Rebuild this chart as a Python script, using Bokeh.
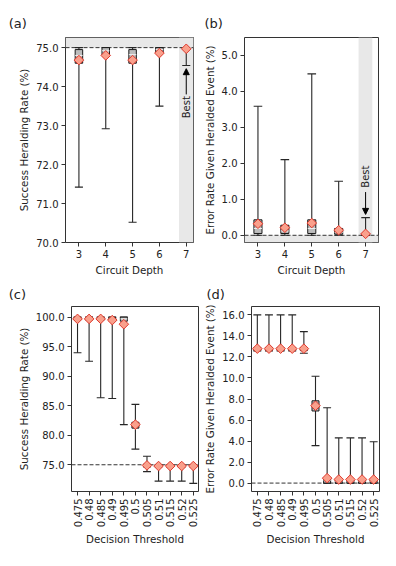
import numpy as np
from math import pi
from bokeh.plotting import figure
from bokeh.models import (Range1d, FixedTicker, PrintfTickFormatter, BoxAnnotation,
                          Span, Arrow, NormalHead, ColumnDataSource, Label)
from bokeh.layouts import column, row
from bokeh.embed import file_html
from bokeh.resources import INLINE

FONT = "DejaVu Sans"

# ---------------- data ----------------
depths = [3, 4, 5, 6, 7]

# (a) success heralding rate vs circuit depth
a_lo = [71.42, 72.92, 70.52, 73.50, 74.54]
a_hi = [75.00, 75.00, 75.00, 75.00, 74.98]
a_q1 = [74.60, 74.80, 74.60, 74.87, 74.97]
a_q3 = [74.95, 75.00, 74.95, 75.00, 74.98]
a_med = [74.80, 74.92, 74.82, 74.95, 74.98]
a_best = [74.68, 74.80, 74.68, 74.86, 74.97]

# (b) error rate vs circuit depth
b_lo = [0.00, 0.00, 0.00, 0.00, 0.00]
b_hi = [3.58, 2.10, 4.48, 1.50, 0.49]
b_q1 = [0.05, 0.05, 0.05, 0.03, 0.00]
b_q3 = [0.43, 0.28, 0.43, 0.19, 0.05]
b_med = [0.19, 0.12, 0.19, 0.08, 0.02]
b_best = [0.32, 0.21, 0.34, 0.14, 0.04]

thresholds = ["0.475", "0.48", "0.485", "0.49", "0.495", "0.5",
              "0.505", "0.51", "0.515", "0.52", "0.525"]

# (c) success heralding rate vs decision threshold
c_lo = [93.97, 92.53, 86.34, 86.23, 81.80, 77.65, 73.84, 72.23, 72.23, 72.23, 71.85]
c_hi = [100.0, 100.0, 100.0, 100.0, 100.0, 85.23, 76.44, 75.00, 75.00, 75.00, 75.00]
c_q1 = [99.50, 99.50, 99.50, 99.40, 99.30, 81.20, 74.60, 74.60, 74.60, 74.60, 74.60]
c_q3 = [100.0, 100.0, 100.0, 100.0, 100.0, 82.20, 75.10, 74.95, 74.95, 74.95, 74.95]
c_med = [99.80, 99.80, 99.80, 99.70, 99.70, 81.70, 74.90, 74.80, 74.80, 74.80, 74.80]
c_best = [99.70, 99.70, 99.70, 99.50, 98.80, 81.80, 74.89, 74.78, 74.78, 74.78, 74.78]

# (d) error rate vs decision threshold
d_lo = [12.57, 12.57, 12.57, 12.57, 12.35, 3.56, 0.00, 0.00, 0.00, 0.00, 0.00]
d_hi = [16.00, 16.00, 16.00, 16.00, 14.41, 10.17, 7.17, 4.30, 4.30, 4.30, 3.93]
d_q1 = [12.60, 12.60, 12.60, 12.60, 12.60, 6.86, 0.00, 0.00, 0.00, 0.00, 0.00]
d_q3 = [12.90, 12.90, 12.90, 12.90, 12.90, 7.83, 0.50, 0.30, 0.30, 0.30, 0.30]
d_med = [12.75, 12.75, 12.75, 12.75, 12.75, 7.30, 0.25, 0.15, 0.15, 0.15, 0.15]
d_best = [12.79, 12.79, 12.79, 12.79, 12.79, 7.36, 0.47, 0.34, 0.34, 0.34, 0.34]

best_depth = 7
ref_rate = 75.0
ref_err = 0.0

# ---------------- helpers ----------------
def make_fig(w, h, xr, yr, bl, br, bt, bb, title, title_offset, title_standoff):
    p = figure(width=w, height=h, x_range=Range1d(*xr), y_range=Range1d(*yr),
               output_backend="svg", toolbar_location=None,
               min_border_left=bl, min_border_right=br,
               min_border_top=bt, min_border_bottom=bb, title=title)
    p.xgrid.visible = False
    p.ygrid.visible = False
    p.outline_line_color = "#333333"
    p.outline_line_width = 1
    p.background_fill_color = "white"
    p.border_fill_color = "white"
    p.title.text_font = FONT
    p.title.text_font_size = "13px"
    p.title.text_font_style = "normal"
    p.title.text_color = "#222222"
    p.title.align = "left"
    p.title.offset = title_offset
    p.title.standoff = title_standoff
    for ax in (p.xaxis[0], p.yaxis[0]):
        ax.axis_line_color = None
        ax.major_tick_line_color = "#333333"
        ax.major_tick_out = 4
        ax.major_tick_in = 0
        ax.minor_tick_line_color = None
        ax.major_label_text_font = FONT
        ax.major_label_text_font_size = "10px"
        ax.major_label_text_color = "#222222"
        ax.major_label_standoff = 3
        ax.axis_label_text_font = FONT
        ax.axis_label_text_font_size = "10.3px"
        ax.axis_label_text_font_style = "normal"
        ax.axis_label_text_color = "#222222"
        ax.axis_label_standoff = 3
    p.yaxis[0].formatter = PrintfTickFormatter(format="%.1f")
    return p


def draw_boxes(p, x, lo, hi, q1, q3, med, best, box_w, cap_w):
    x = np.asarray(x, dtype=float)
    src = ColumnDataSource(dict(
        x=x, lo=lo, hi=hi, q1=q1, q3=q3, med=med, best=best,
        bl=x - box_w / 2, br=x + box_w / 2,
        cl=x - cap_w / 2, cr=x + cap_w / 2))
    p.segment(x0="x", y0="lo", x1="x", y1="hi", source=src,
              line_color="#262626", line_width=1.1)
    p.segment(x0="cl", y0="lo", x1="cr", y1="lo", source=src,
              line_color="#262626", line_width=1.1)
    p.segment(x0="cl", y0="hi", x1="cr", y1="hi", source=src,
              line_color="#262626", line_width=1.1)
    p.quad(left="bl", right="br", bottom="q1", top="q3", source=src,
           fill_color="#bdbdbd", line_color="#1a1a1a", line_width=1)
    p.segment(x0="bl", y0="med", x1="br", y1="med", source=src,
              line_color="#f2f2f2", line_width=1)
    p.scatter(x="x", y="best", source=src, marker="square", angle=pi / 4,
              size=6.8, fill_color="#f9a08c", line_color="#e0392d", line_width=1)


def dashed(p, loc):
    p.add_layout(Span(location=loc, dimension="width", line_color="#333333",
                      line_dash="4 2", line_width=1, level="underlay"))


shade = "#e8e8e8"

# ---------------- (a) ----------------
pa = make_fig(198, 280, (2.5, 7.27), (70.0, 75.26), 65, 5, 37, 38, "(a)", -56.7, 12.5)
pa.add_layout(BoxAnnotation(bottom=ref_rate, fill_color=shade, fill_alpha=1,
                            line_color=None, level="underlay"))
pa.add_layout(BoxAnnotation(left=best_depth - 0.27, right=best_depth + 0.27,
                            fill_color=shade, fill_alpha=1, line_color=None,
                            level="underlay"))
dashed(pa, ref_rate)
draw_boxes(pa, depths, a_lo, a_hi, a_q1, a_q3, a_med, a_best, 0.28, 0.3)
pa.xaxis[0].ticker = FixedTicker(ticks=depths)
pa.yaxis[0].ticker = FixedTicker(ticks=[70, 71, 72, 73, 74, 75])
pa.xaxis[0].axis_label = "Circuit Depth"
pa.yaxis[0].axis_label = "Success Heralding Rate (%)"
pa.add_layout(Arrow(end=NormalHead(size=6, fill_color="black", line_color="black"),
                    x_start=best_depth, y_start=73.80, x_end=best_depth, y_end=74.46,
                    line_color="black", line_width=1))
pa.add_layout(Label(x=best_depth, y=73.47, text="Best", angle=pi / 2,
                    text_align="center", text_baseline="middle",
                    text_font=FONT, text_font_size="10px", text_color="#222222"))

# ---------------- (b) ----------------
pb = make_fig(198, 280, (2.5, 7.48), (-0.2, 5.49), 46, 18, 37, 38, "(b)", -40, 12.5)
pb.add_layout(BoxAnnotation(top=ref_err, fill_color=shade, fill_alpha=1,
                            line_color=None, level="underlay"))
pb.add_layout(BoxAnnotation(left=best_depth - 0.26, right=best_depth + 0.25,
                            fill_color=shade, fill_alpha=1, line_color=None,
                            level="underlay"))
dashed(pb, ref_err)
draw_boxes(pb, depths, b_lo, b_hi, b_q1, b_q3, b_med, b_best, 0.3, 0.32)
pb.xaxis[0].ticker = FixedTicker(ticks=depths)
pb.yaxis[0].ticker = FixedTicker(ticks=[0, 1, 2, 3, 4, 5])
pb.xaxis[0].axis_label = "Circuit Depth"
pb.yaxis[0].axis_label = "Error Rate Given Heralded Event (%)"
pb.add_layout(Arrow(end=NormalHead(size=6, fill_color="black", line_color="black"),
                    x_start=best_depth, y_start=1.20, x_end=best_depth, y_end=0.58,
                    line_color="black", line_width=1))
pb.add_layout(Label(x=best_depth, y=1.63, text="Best", angle=pi / 2,
                    text_align="center", text_baseline="middle",
                    text_font=FONT, text_font_size="10px", text_color="#222222"))

# ---------------- (c) ----------------
idx = list(range(len(thresholds)))
pc = make_fig(200, 268, (-0.52, 10.45), (70.47, 101.8), 71, 2, 25, 54, "(c)", -62.7, 9)
dashed(pc, ref_rate)
draw_boxes(pc, idx, c_lo, c_hi, c_q1, c_q3, c_med, c_best, 0.6, 0.68)
pc.xaxis[0].ticker = FixedTicker(ticks=idx)
pc.xaxis[0].major_label_overrides = {i: t for i, t in zip(idx, thresholds)}
pc.xaxis[0].major_label_orientation = pi / 2
pc.yaxis[0].ticker = FixedTicker(ticks=[75, 80, 85, 90, 95, 100])
pc.xaxis[0].axis_label = "Decision Threshold"
pc.yaxis[0].axis_label = "Success Heralding Rate (%)"

# ---------------- (d) ----------------
pd_ = make_fig(196, 268, (-0.5, 10.5), (-0.8, 16.8), 51, 17, 25, 54, "(d)", -45, 9)
dashed(pd_, ref_err)
draw_boxes(pd_, idx, d_lo, d_hi, d_q1, d_q3, d_med, d_best, 0.6, 0.68)
pd_.xaxis[0].ticker = FixedTicker(ticks=idx)
pd_.xaxis[0].major_label_overrides = {i: t for i, t in zip(idx, thresholds)}
pd_.xaxis[0].major_label_orientation = pi / 2
pd_.yaxis[0].ticker = FixedTicker(ticks=[0, 2, 4, 6, 8, 10, 12, 14, 16])
pd_.xaxis[0].axis_label = "Decision Threshold"
pd_.yaxis[0].axis_label = "Error Rate Given Heralded Event (%)"

layout = column(row(pa, pb), row(pc, pd_))
open("out.html", "w").write(file_html(layout, INLINE))
